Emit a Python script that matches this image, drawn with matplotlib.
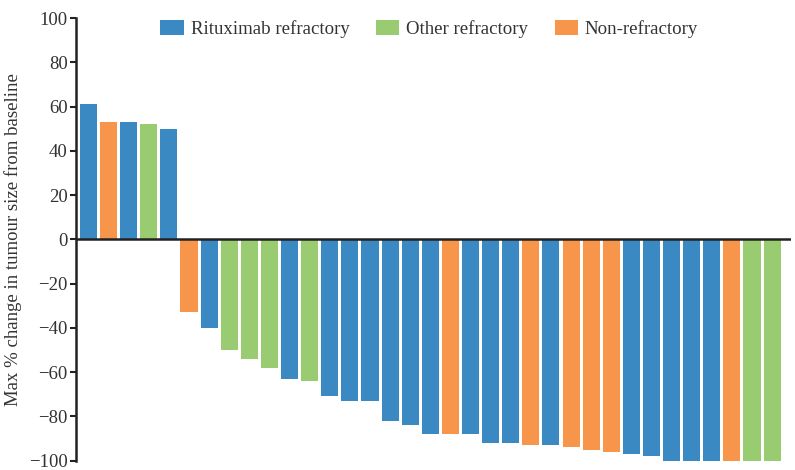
import numpy as np
import matplotlib
matplotlib.use("Agg")
import matplotlib.pyplot as plt
from matplotlib.patches import Patch

# waterfall data: max % change per patient, sorted as in the figure
values = [61, 53, 53, 52, 50,
          -33, -40, -50, -54, -58, -63, -64, -71, -73, -73,
          -82, -84, -88, -88, -88, -92, -92, -93, -93, -94,
          -95, -96, -97, -98, -100, -100, -100, -100, -100, -100]
groups = ["R", "N", "R", "O", "R",
          "N", "R", "O", "O", "O", "R", "O", "R", "R", "R",
          "R", "R", "R", "N", "R", "R", "R", "N", "R", "N",
          "N", "N", "R", "R", "R", "R", "R", "N", "O", "O"]
group_labels = {"R": "Rituximab refractory", "O": "Other refractory", "N": "Non-refractory"}
group_colors = {"R": "#3a89c3", "O": "#99cc70", "N": "#f7954a"}
yticks = [-100, -80, -60, -40, -20, 0, 20, 40, 60, 80, 100]

plt.rcParams['font.family'] = ['Liberation Serif', 'DejaVu Serif']
text_color = "#333333"

fig = plt.figure(figsize=(7.95, 4.7), dpi=100)
ax = fig.add_axes([0.0956, 0.02, 0.8994, 0.9417])

x = np.arange(len(values))
ax.bar(x, values, width=0.85, color=[group_colors[g] for g in groups], zorder=2)
ax.axhline(0, color="#222222", lw=1.8, zorder=3)

ax.set_xlim(-0.62, len(values) - 0.06)
ax.set_ylim(-100, 100)
ax.set_yticks(yticks)
ax.set_xticks([])
ax.tick_params(axis='y', direction='out', length=4, width=1.5, color="#222222",
               labelsize=13.5, labelcolor=text_color, pad=2)
for s in ["top", "right", "bottom"]:
    ax.spines[s].set_visible(False)
ax.spines["left"].set_linewidth(1.8)
ax.spines["left"].set_color("#222222")
ax.set_ylabel("Max % change in tumour size from baseline", fontsize=13.5,
              color=text_color, labelpad=5)

handles = [Patch(facecolor=group_colors[k], label=group_labels[k]) for k in ["R", "O", "N"]]
ax.legend(handles=handles, loc="upper center", bbox_to_anchor=(0.494, 1.035), ncol=3,
          frameon=False, fontsize=13.6, handlelength=1.25, handleheight=0.85,
          handletextpad=0.35, columnspacing=1.4, labelcolor=text_color)

fig.savefig("out.png", dpi=100)
